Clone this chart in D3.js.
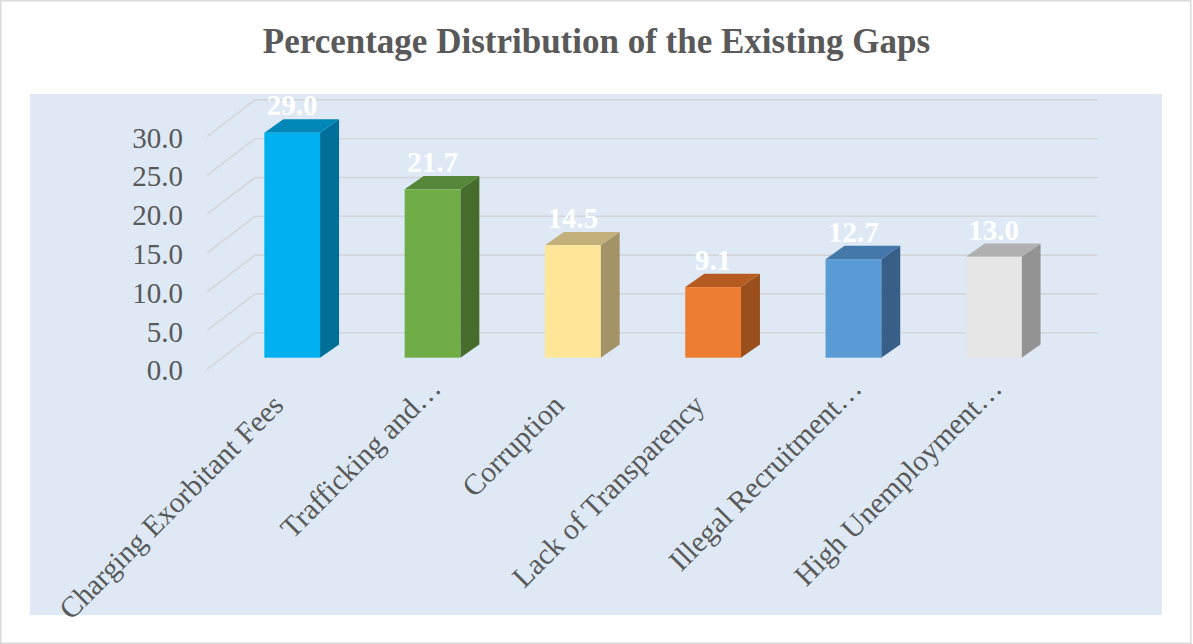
<!DOCTYPE html>
<html>
<head>
<meta charset="utf-8">
<script src="https://cdn.jsdelivr.net/npm/d3@7"></script>
<style>
  html, body { margin: 0; padding: 0; background: #ffffff; }
  svg { display: block; }
  text { font-family: "Liberation Serif", "Times New Roman", serif; }
</style>
</head>
<body>
<svg id="chart" width="1193" height="644"></svg>
<script>
// ---- data ----
const title = "Percentage Distribution of the Existing Gaps";
const categories = [
  "Charging Exorbitant Fees",
  "Trafficking and\u2026",
  "Corruption",
  "Lack of Transparency",
  "Illegal Recruitment\u2026",
  "High Unemployment\u2026"
];
const values = [29.0, 21.7, 14.5, 9.1, 12.7, 13.0];
const yTicks = [0, 5, 10, 15, 20, 25, 30];

// ---- styles ----
const frontColors = ["#00b0f0", "#70ad47", "#ffe699", "#ed7d31", "#5b9bd5", "#e7e6e6"];
const sideColors  = ["#006f97", "#466d2c", "#a39366", "#9a4f1d", "#385f88", "#939393"];
const topColors   = ["#0087b8", "#56863a", "#c4b07a", "#b65b22", "#4578aa", "#b0b0b0"];

const svg = d3.select("#chart");
const W = 1193, H = 644;

// outer border
svg.append("rect").attr("x", 0.75).attr("y", 0.75).attr("width", W - 3).attr("height", H - 1.5)
  .attr("fill", "#ffffff").attr("stroke", "#d9d9d9").attr("stroke-width", 1.5);

// plot area background
svg.append("rect").attr("x", 30).attr("y", 94).attr("width", 1132).attr("height", 521)
  .attr("fill", "#dee9f5");

// title
svg.append("text").attr("x", 596.5).attr("y", 53).attr("text-anchor", "middle")
  .attr("font-size", 35).attr("font-weight", "bold").attr("fill", "#595959").text(title);

// scales
const y = d3.scaleLinear().domain([0, 30]).range([332.7, 99.9]); // back wall
const x = d3.scalePoint().domain(categories).range([292.2, 993.7]);

const wallLeft = 255, wallRight = 1098;
const sideDx = -48, sideDy = 36.7;      // side wall depth
const frontDy = 25;                     // bar front offset from back wall
const barW = 55.7, depthDx = 19, depthDy = -13.3;

// gridlines
const grid = svg.append("g").attr("stroke", "#d4d6d9").attr("stroke-width", 1.6).attr("fill", "none");
yTicks.forEach(t => {
  grid.append("line").attr("x1", wallLeft).attr("y1", y(t)).attr("x2", wallRight).attr("y2", y(t));
  grid.append("line").attr("x1", wallLeft + sideDx).attr("y1", y(t) + sideDy).attr("x2", wallLeft).attr("y2", y(t));
});

// y tick labels
svg.append("g").selectAll("text").data(yTicks).join("text")
  .attr("x", 183).attr("y", d => y(d) + sideDy + 11)
  .attr("text-anchor", "end").attr("font-size", 29).attr("fill", "#595959")
  .text(d => d3.format(".1f")(d));

// bars
const bars = svg.append("g");
categories.forEach((c, i) => {
  const v = values[i];
  const x0 = x(c) - barW / 2, x1 = x(c) + barW / 2;
  const yb = y(0) + frontDy, yt = y(v) + frontDy;
  const g = bars.append("g");
  g.append("polygon")
    .attr("points", [[x1, yb], [x1, yt], [x1 + depthDx, yt + depthDy], [x1 + depthDx, yb + depthDy]].map(p => p.join(",")).join(" "))
    .attr("fill", sideColors[i]);
  g.append("polygon")
    .attr("points", [[x0, yt], [x1, yt], [x1 + depthDx, yt + depthDy], [x0 + depthDx, yt + depthDy]].map(p => p.join(",")).join(" "))
    .attr("fill", topColors[i]);
  g.append("rect").attr("x", x0).attr("y", yt).attr("width", barW).attr("height", yb - yt)
    .attr("fill", frontColors[i]);
  // data label
  g.append("text").attr("x", x(c)).attr("y", yt + depthDy - 4)
    .attr("text-anchor", "middle").attr("font-size", 29).attr("font-weight", "bold")
    .attr("fill", "#ffffff").text(d3.format(".1f")(v));
});

// category labels (rotated, end-anchored near the bar)
svg.append("g").selectAll("text").data(categories).join("text")
  .attr("transform", d => {
    const s = d.endsWith("\u2026") ? 17 : 0;
    return `translate(${x(d) - 7 + s},${407 - s}) rotate(-45)`;
  })
  .attr("text-anchor", "end").attr("font-size", 29.5).attr("fill", "#595959")
  .text(d => d);
</script>
</body>
</html>
